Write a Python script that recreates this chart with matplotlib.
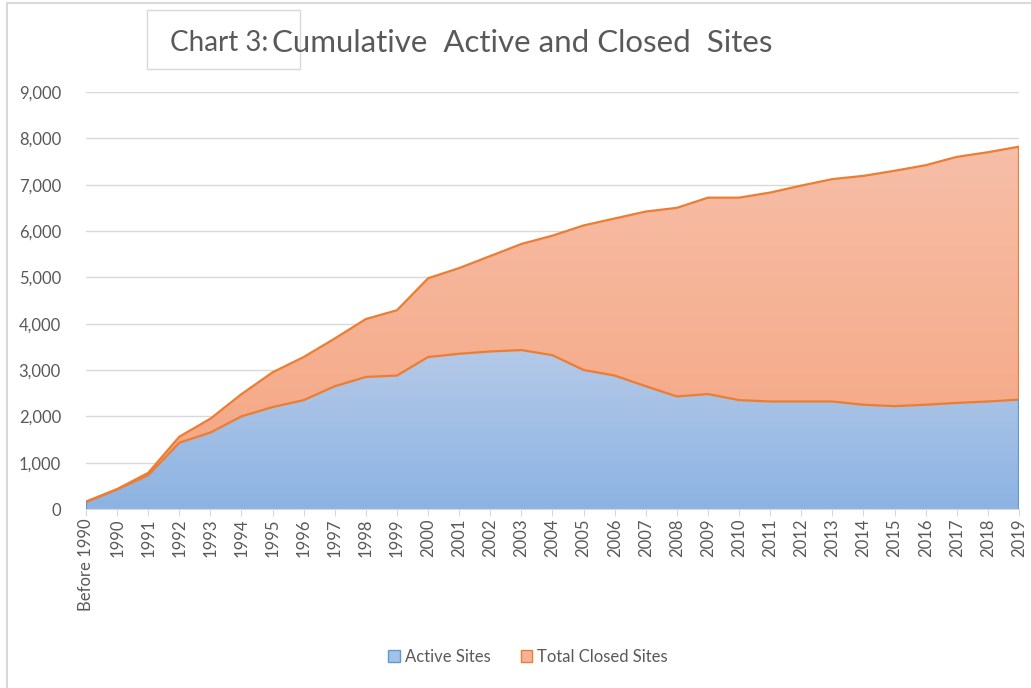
import numpy as np
import matplotlib
matplotlib.use("Agg")
import matplotlib.pyplot as plt
from matplotlib.patches import Polygon, Rectangle
from matplotlib.lines import Line2D
from matplotlib.ticker import FuncFormatter

plt.rcParams['font.family'] = ['Lato', 'DejaVu Sans']

# data
years = ["Before 1990"] + [str(y) for y in range(1990, 2020)]
active_sites = [150, 420, 730, 1430, 1650, 2000, 2200, 2350, 2650, 2850,
                2880, 3280, 3350, 3400, 3430, 3320, 3000, 2880, 2650, 2430,
                2480, 2350, 2320, 2320, 2320, 2250, 2220, 2250, 2290, 2320,
                2360]
total_sites = [160, 430, 780, 1560, 1950, 2480, 2950, 3280, 3680, 4100,
               4290, 4980, 5200, 5460, 5720, 5900, 6120, 6270, 6420, 6500,
               6720, 6720, 6830, 6980, 7120, 7190, 7300, 7420, 7600, 7700,
               7820]
closed_sites = [t - a for t, a in zip(total_sites, active_sites)]

grey = "#595959"
x = np.arange(len(years))
active = np.array(active_sites)
top = active + np.array(closed_sites)

fig = plt.figure(figsize=(10.31, 6.88), dpi=100)
ax = fig.add_axes([86 / 1031, 1 - 509 / 688, (1019 - 86) / 1031, (509 - 92) / 688])
ax.set_xlim(0, len(years) - 1)
ax.set_ylim(0, 9000)


def gradient_fill(lower, upper, c_top, c_bot, z):
    poly = Polygon(np.column_stack([np.r_[x, x[::-1]], np.r_[upper, lower[::-1]]]),
                   closed=True, facecolor="none", edgecolor="none")
    ax.add_patch(poly)
    c1 = np.array(matplotlib.colors.to_rgb(c_top))
    c2 = np.array(matplotlib.colors.to_rgb(c_bot))
    t = np.linspace(0, 1, 256)[:, None]
    img = (c1 * (1 - t) + c2 * t)[:, None, :]
    im = ax.imshow(img, aspect="auto", origin="upper", zorder=z,
                   extent=[0, len(years) - 1, max(lower.min(), 0), upper.max()])
    im.set_clip_path(poly)


gradient_fill(np.zeros_like(active), active, "#b4c9e8", "#8db3e2", 2)
gradient_fill(active, top, "#f7bea8", "#f4a580", 2)
ax.plot(x, active, color="#ed7d31", lw=1.6, zorder=4)
ax.plot(x, top, color="#ed7d31", lw=1.6, zorder=4)
ax.plot([x[-1], x[-1]], [active[-1], top[-1]], color="#ed7d31", lw=1.6, zorder=4)
ax.plot([x[-1], x[-1]], [0, active[-1]], color="#5b9bd5", lw=1.6, zorder=4)
ax.plot([x[0], x[0]], [0, active[0]], color="#5b9bd5", lw=1.6, zorder=4)

ax.set_yticks(range(0, 9001, 1000))
ax.yaxis.set_major_formatter(FuncFormatter(lambda v, p: f"{int(v):,}"))
ax.grid(axis="y", color="#d9d9d9", lw=1)
ax.set_axisbelow(True)
ax.set_xticks(x)
ax.set_xticklabels(years, rotation=90, va="top", ha="center")
ax.tick_params(axis="y", length=0, labelsize=12, labelcolor=grey, pad=18)
ax.tick_params(axis="x", length=5, color="#d9d9d9", labelsize=12, labelcolor=grey, pad=2)
for s in ["top", "right", "left"]:
    ax.spines[s].set_visible(False)
ax.spines["bottom"].set_color("#d9d9d9")
ax.spines["bottom"].set_zorder(5)

# title with the little box around "Chart 3:"
fig.text(170 / 1031, 1 - 43 / 688, "Chart 3:", fontsize=20, color=grey, va="center", ha="left")
fig.text(272 / 1031, 1 - 43 / 688, "Cumulative  Active and Closed  Sites", fontsize=22.5,
         color=grey, va="center", ha="left")
fig.patches.append(Rectangle((147 / 1031, 1 - 69 / 688), 153 / 1031, 59 / 688,
                             transform=fig.transFigure, fill=False, edgecolor="#d9d9d9", lw=1))

# legend
handles = [Rectangle((0, 0), 1, 1, facecolor="#a4c2e6", edgecolor="#5b9bd5"),
           Rectangle((0, 0), 1, 1, facecolor="#f6b397", edgecolor="#ed7d31")]
fig.legend(handles, ["Active Sites", "Total Closed Sites"], loc="center",
           bbox_to_anchor=(528 / 1031, 1 - 657 / 688), ncol=2, frameon=False,
           fontsize=12, labelcolor=grey, handlelength=0.7, handleheight=0.7,
           handletextpad=0.3, columnspacing=1.8)

# chart border
fig.lines.append(Line2D([7 / 1031, 7 / 1031], [0, 1 - 3 / 688], transform=fig.transFigure,
                        color="#d9d9d9", lw=1.5))
fig.lines.append(Line2D([7 / 1031, 1], [1 - 3 / 688, 1 - 3 / 688], transform=fig.transFigure,
                        color="#d9d9d9", lw=1.5))

fig.savefig("out.png", dpi=100)
